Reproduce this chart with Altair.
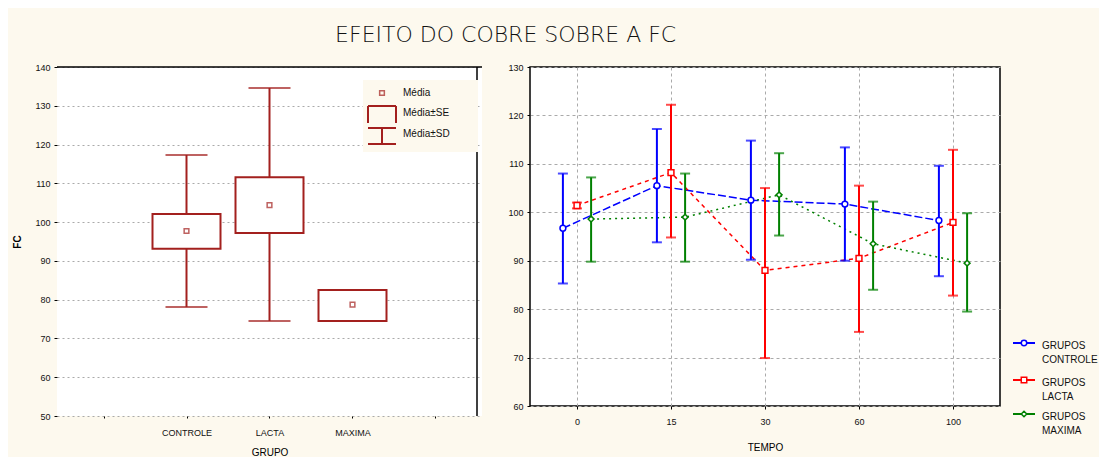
import altair as alt
import pandas as pd

# ---------------- data ----------------
# left panel: box plot (mean, mean±SE, mean±SD) by group
grupos = ["CONTROLE", "LACTA", "MAXIMA"]
grupo_pos = [2, 3, 4]
media = [97.7, 104.4, 78.7]
se_lo = [93.1, 97.2, 74.5]
se_hi = [102.1, 111.6, 82.5]
sd_lo = [78.1, 74.5, 74.5]
sd_hi = [117.3, 134.6, 82.5]
left_x_labels = ["", "CONTROLE", "LACTA", "MAXIMA", ""]
left_y_ticks = [50, 60, 70, 80, 90, 100, 110, 120, 130, 140]

# right panel: mean ± error by time
tempos = ["0", "15", "30", "60", "100"]
series = ["GRUPOS CONTROLE", "GRUPOS LACTA", "GRUPOS MAXIMA"]
ctrl_mean = [96.7, 105.5, 102.5, 101.7, 98.3]
ctrl_lo = [85.3, 93.8, 90.2, 90.0, 86.8]
ctrl_hi = [108.0, 117.2, 114.8, 113.4, 109.6]
lacta_mean = [101.4, 108.2, 88.0, 90.5, 97.9]
lacta_lo = [100.8, 94.8, 69.9, 75.3, 82.8]
lacta_hi = [102.0, 122.2, 105.0, 105.5, 112.9]
max_mean = [98.6, 99.0, 103.6, 93.5, 89.5]
max_lo = [89.8, 89.8, 95.2, 84.0, 79.5]
max_hi = [107.2, 108.0, 112.2, 102.2, 99.8]
right_y_ticks = [60, 70, 80, 90, 100, 110, 120, 130]

# ---------------- styles ----------------
BG = "#fdf9ee"
DR = "#a3201e"
COLORS = ["#0000ff", "#ff0000", "#008000"]
DASHES = [[8, 3], [4, 4], [2, 4]]
SHAPES = ["circle", "square", "diamond"]
OFFSET = [-0.15, 0.0, 0.15]
FONT = "Liberation Sans"

# ---------------- left panel ----------------
left_df = pd.DataFrame({"grupo": grupos, "pos": grupo_pos, "media": media,
                        "se_lo": se_lo, "se_hi": se_hi, "sd_lo": sd_lo, "sd_hi": sd_hi})

lx_scale = alt.Scale(domain=[0.5, 5.5], nice=False, zero=False)
lx_axis = alt.Axis(values=[1, 2, 3, 4, 5],
                   labelExpr="%s[datum.value-1]" % str(left_x_labels),
                   grid=False, domain=False, tickSize=2, tickColor="black",
                   labelFont=FONT, labelFontSize=9, labelColor="#111",
                   labelPadding=10, title="GRUPO", titleFont=FONT,
                   titleFontSize=10, titleFontWeight="normal", titlePadding=10)
ly_scale = alt.Scale(domain=[50, 140], nice=False, zero=False)
ly_axis = alt.Axis(values=left_y_ticks, grid=True, gridDash=[2, 3], gridColor="#aaaaaa",
                   domain=False, tickSize=3, tickColor="black", labelFont=FONT,
                   labelFontSize=9, labelColor="#111", labelPadding=4, labelOverlap=False,
                   title="FC", titleFont=FONT, titleFontSize=10, titleFontWeight="bold",
                   titlePadding=12)


def LX(f):
    return alt.X(f, scale=lx_scale, axis=lx_axis)


def LY(f):
    return alt.Y(f, scale=ly_scale, axis=ly_axis)


base_l = alt.Chart(left_df)
whisk = base_l.mark_rule(color=DR, strokeWidth=2).encode(
    x=LX("pos:Q"), y=LY("sd_lo:Q"), y2="sd_hi:Q")
cap_lo = base_l.mark_tick(color=DR, orient="horizontal", size=42, thickness=2).encode(
    x=LX("pos:Q"), y=LY("sd_lo:Q"))
cap_hi = base_l.mark_tick(color=DR, orient="horizontal", size=42, thickness=2).encode(
    x=LX("pos:Q"), y=LY("sd_hi:Q"))
box = base_l.mark_bar(size=68, fill="white", stroke=DR, strokeWidth=2).encode(
    x=LX("pos:Q"), y=LY("se_lo:Q"), y2="se_hi:Q")
mean_pt = base_l.mark_point(shape="square", size=22, color=DR, strokeWidth=1.5,
                            filled=False).encode(x=LX("pos:Q"), y=LY("media:Q"))

frame_top = alt.Chart(pd.DataFrame({"v": [140]})).mark_rule(
    color="black", strokeWidth=1.5).encode(y=LY("v:Q"))
frame_right = alt.Chart(pd.DataFrame({"v": [5.5]})).mark_rule(
    color="black", strokeWidth=1.5).encode(x=LX("v:Q"))

# legend of left panel
one = pd.DataFrame({"a": [0]})
leg_bg = alt.Chart(one).mark_rect(fill=BG).encode(
    x=alt.value(306), x2=alt.value(421), y=alt.value(13), y2=alt.value(85))
leg_txt = alt.Chart(pd.DataFrame({"t": ["Média", "Média±SE", "Média±SD"],
                                  "py": [26, 46, 67]})).mark_text(
    align="left", baseline="middle", font=FONT, fontSize=10, color="#111").encode(
    x=alt.value(346), y=alt.Y("py:Q", scale=None), text="t:N")
leg_mean = alt.Chart(one).mark_point(
    shape="square", size=22, color=DR, strokeWidth=1.5, filled=False).encode(
    x=alt.value(325), y=alt.value(26))
leg_se_top = alt.Chart(one).mark_rule(color=DR, strokeWidth=2).encode(
    x=alt.value(311), x2=alt.value(339), y=alt.value(39))
leg_se_l = alt.Chart(one).mark_rule(color=DR, strokeWidth=2).encode(
    x=alt.value(311), y=alt.value(39), y2=alt.value(56))
leg_se_r = alt.Chart(one).mark_rule(color=DR, strokeWidth=2).encode(
    x=alt.value(339), y=alt.value(39), y2=alt.value(56))
leg_sd_t = alt.Chart(one).mark_rule(color=DR, strokeWidth=2).encode(
    x=alt.value(311), x2=alt.value(339), y=alt.value(61))
leg_sd_b = alt.Chart(one).mark_rule(color=DR, strokeWidth=2).encode(
    x=alt.value(311), x2=alt.value(339), y=alt.value(77))
leg_sd_v = alt.Chart(one).mark_rule(color=DR, strokeWidth=2).encode(
    x=alt.value(325), y=alt.value(61), y2=alt.value(77))

left = alt.layer(whisk, cap_lo, cap_hi, box, mean_pt, frame_top, frame_right,
                 leg_bg, leg_mean, leg_se_top, leg_se_l, leg_se_r,
                 leg_sd_t, leg_sd_b, leg_sd_v, leg_txt).properties(
    width=425, height=349, view=alt.ViewBackground(stroke=None, fill="white"))

# ---------------- right panel ----------------
rows = []
for s, off, mm, lo, hi in zip(series, OFFSET, [ctrl_mean, lacta_mean, max_mean],
                              [ctrl_lo, lacta_lo, max_lo], [ctrl_hi, lacta_hi, max_hi]):
    for i, t in enumerate(tempos):
        rows.append({"grupo": s, "tempo": t, "xi": i + off, "mean": mm[i],
                     "lo": lo[i], "hi": hi[i]})
rdf = pd.DataFrame(rows)

rx = alt.X("xi:Q", scale=alt.Scale(domain=[-0.5, 4.5], nice=False, zero=False),
           axis=alt.Axis(values=[0, 1, 2, 3, 4],
                         labelExpr="%s[datum.value]" % str(tempos),
                         grid=True, gridDash=[3, 3], gridColor="#aaaaaa",
                         domain=False, tickSize=3, tickColor="black", labelFont=FONT,
                         labelFontSize=9, labelColor="#111", labelPadding=8,
                         title="TEMPO", titleFont=FONT, titleFontSize=10,
                         titleFontWeight="normal", titlePadding=16))
ry_scale = alt.Scale(domain=[60, 130], nice=False, zero=False)
ry_axis = alt.Axis(values=right_y_ticks, grid=True, gridDash=[3, 3], gridColor="#aaaaaa",
                   domain=False, tickSize=3, tickColor="black", labelFont=FONT,
                   labelFontSize=9, labelColor="#111", labelPadding=4, labelOverlap=False,
                   title=None)
color = alt.Color("grupo:N", scale=alt.Scale(domain=series, range=COLORS), legend=None)

base_r = alt.Chart(rdf)
lines = base_r.mark_line(strokeWidth=1.5).encode(
    x=rx, y=alt.Y("mean:Q", scale=ry_scale, axis=ry_axis), color=color,
    strokeDash=alt.StrokeDash("grupo:N", scale=alt.Scale(domain=series, range=DASHES),
                              legend=None),
    order="xi:Q")
err = base_r.mark_rule(strokeWidth=2).encode(x="xi:Q", y="lo:Q", y2="hi:Q", color=color)
ecap_lo = base_r.mark_tick(orient="horizontal", size=10, thickness=2).encode(
    x="xi:Q", y="lo:Q", color=color)
ecap_hi = base_r.mark_tick(orient="horizontal", size=10, thickness=2).encode(
    x="xi:Q", y="hi:Q", color=color)
pts = base_r.mark_point(size=34, fill="white", filled=False, strokeWidth=1.5, opacity=1).encode(
    x="xi:Q", y="mean:Q", color=color,
    shape=alt.Shape("grupo:N", scale=alt.Scale(domain=series, range=SHAPES), legend=None))

# legend of right panel
leg_df = pd.DataFrame({"grupo": series,
                       "label": [s.replace(" ", "\n") for s in series],
                       "py": [276, 313, 347]})
leg_r_line = alt.Chart(leg_df).mark_rule(strokeWidth=2).encode(
    x=alt.value(483), x2=alt.value(505), y=alt.Y("py:Q", scale=None), color=color)
leg_r_pt = alt.Chart(leg_df).mark_point(size=30, fill="white", filled=False,
                                        strokeWidth=1.5, opacity=1).encode(
    x=alt.value(494), y=alt.Y("py:Q", scale=None), color=color,
    shape=alt.Shape("grupo:N", scale=alt.Scale(domain=series, range=SHAPES), legend=None))
leg_r_txt = alt.Chart(leg_df).mark_text(align="left", baseline="middle", font=FONT,
                                        fontSize=10, color="#111", lineBreak="\n",
                                        lineHeight=14, dy=3).encode(
    x=alt.value(512), y=alt.Y("py:Q", scale=None), text="label:N")

right = alt.layer(lines, err, ecap_lo, ecap_hi, pts, leg_r_line, leg_r_pt, leg_r_txt).properties(
    width=470, height=339,
    view=alt.ViewBackground(stroke="black", strokeWidth=1.5, fill="white"))

chart = alt.hconcat(left, right, spacing=24).properties(
    background=BG,
    padding={"left": 4, "top": 16, "right": 0, "bottom": 0},
    title=alt.TitleParams("EFEITO DO COBRE SOBRE A FC", font="DejaVu Sans", fontSize=22,
                          fontWeight=300, color="#111", anchor="middle",
                          offset=15, dx=-50),
).configure_view(stroke=None)

chart.save("out.html", embed_options={"renderer": "svg", "actions": False})
